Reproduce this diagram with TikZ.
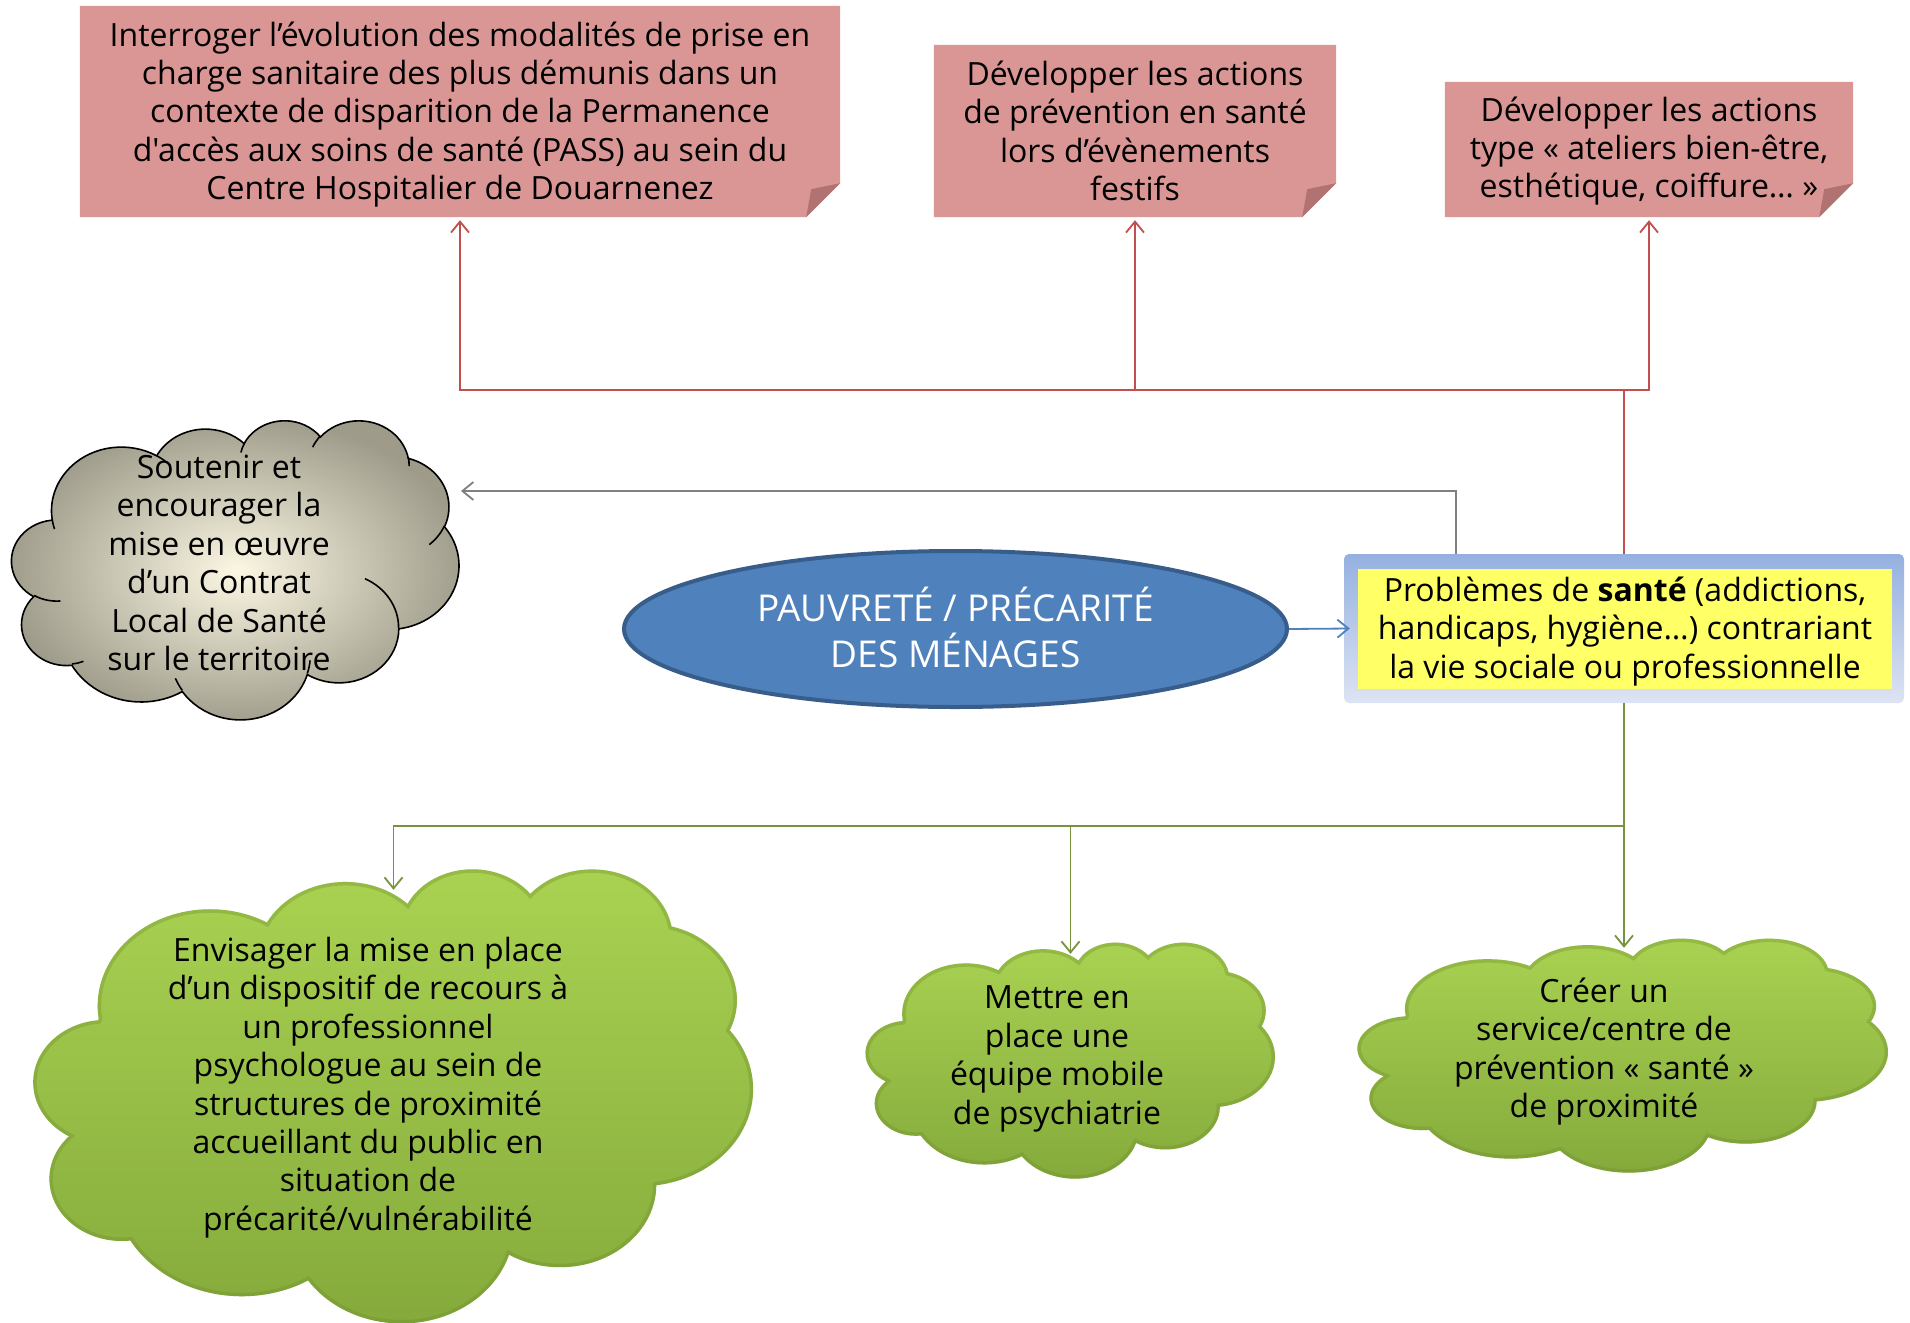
\documentclass[tikz,border=0pt]{standalone}
\usepackage{fontspec}
\setmainfont{Open Sans}[Ligatures=TeXOff]
\usetikzlibrary{shapes.geometric,arrows.meta,calc}
\pgfdeclarelayer{background}
\pgfsetlayers{background,main}
\definecolor{pinkf}{HTML}{D99694}
\definecolor{pinkd}{HTML}{B07371}
\definecolor{redl}{HTML}{C0504D}
\definecolor{greenl}{HTML}{77933C}
\definecolor{grayl}{HTML}{808080}
\definecolor{bluel}{HTML}{4F81BD}
\definecolor{blued}{HTML}{385D8A}
\definecolor{glowtop}{HTML}{95B0E0}
\definecolor{glowbot}{HTML}{DDE4F3}
\definecolor{yel}{HTML}{FFFF66}
\definecolor{gtop}{HTML}{AAD352}
\definecolor{gbot}{HTML}{84A93B}
\definecolor{grim}{HTML}{6E8F2E}
\definecolor{cream}{HTML}{FBF7E3}
\definecolor{taupe}{HTML}{9E9B8A}
\tikzset{
  txt/.style={font=\fontsize{32}{38.4}\selectfont, align=center, inner sep=0pt},
  pinkbox/.style={rectangle, inner sep=0pt},
  cbox/.style={rectangle, inner sep=0pt},
  arr/.style={-{Straight Barb[length=11pt,width=18pt,line width=1.8pt]}},
  redc/.style={draw=redl, line width=1.8pt},
  greenc/.style={draw=greenl, line width=1.8pt},
  grayc/.style={draw=grayl, line width=1.8pt},
  bluec/.style={draw=bluel, line width=1.8pt},
}
% Office cloud arcs (box 432 x 432, y down)
\newcommand\mkarc[5]{%
  \pgfmathsetmacro\tmpa{atan2(#2*sin(#4),#3*cos(#4))}%
  \pgfmathsetmacro\tmpb{atan2(#2*sin(#4+#5),#3*cos(#4+#5))}%
  \pgfmathsetmacro\tmpd{\tmpb-\tmpa+360*((\tmpb-\tmpa)<0)}%
  \expandafter\xdef\csname oc#1\endcsname{arc[x radius=#2, y radius=#3, start angle=\tmpa, delta angle=\tmpd]}}
\mkarc{A}{67.53}{91.90}{-190.4875}{123.7805}
\mkarc{B}{53.33}{72.67}{-144.1024}{89.9452}
\mkarc{C}{43.65}{59.45}{-145.8079}{99.7230}
\mkarc{D}{48.57}{65.95}{-130.9861}{117.2417}
\mkarc{E}{53.33}{72.73}{-78.7089}{109.0269}
\mkarc{F}{67.75}{92.20}{-46.2673}{130.2690}
\mkarc{G}{57.85}{78.67}{0.6250}{114.0333}
\mkarc{H}{67.52}{92.15}{22.4516}{115.1726}
\mkarc{I}{77.20}{105.43}{66.2426}{75.7110}
\mkarc{J}{43.60}{59.18}{-274.9421}{146.7356}
\mkarc{K}{43.45}{59.45}{-246.8285}{152.5189}
\mkarc{ia}{43.45}{59.45}{86.7420}{26.4295}
\mkarc{ib}{43.60}{59.18}{73.6105}{11.4475}
\mkarc{ic}{67.52}{92.15}{137.6242}{14.0811}
\mkarc{id}{67.52}{92.15}{6.4533}{15.9984}
\mkarc{ie}{57.85}{78.67}{-70.2924}{70.9174}
\mkarc{if}{53.33}{72.73}{30.3180}{27.7515}
\mkarc{ig}{48.57}{65.95}{-13.7443}{14.8589}
\mkarc{ih}{48.57}{65.95}{-149.1815}{18.1954}
\mkarc{ii}{43.65}{59.45}{-163.4943}{17.6864}
\mkarc{ij}{67.53}{91.90}{-66.7070}{12.3194}
\mkarc{ik}{67.53}{91.90}{157.6544}{11.8582}
\newcommand\ocpath{(39,143.7) \ocA \ocB \ocC \ocD \ocE \ocF \ocG \ocH \ocI \ocJ \ocK -- cycle}
\newcommand\ocinner{(46.93,261.77) \ocia (69.28,348.99) \ocib (164.78,390.90) \ocic
  (288.27,347.51) \ocid (341.29,229.54) \ocie (417.98,153.54) \ocif (383.24,54.26) \ocig
  (290.78,39.52) \ocih (221.41,47.20) \ocii (140.00,51.92) \ocij (41.27,157.89) \ocik}
\newcommand\foldbox[1]{%
  \begin{pgfonlayer}{background}
  \fill[pinkf] (#1.north west) -- (#1.north east) -- ([yshift=34pt]#1.south east)
     -- ([xshift=-34pt]#1.south east) -- (#1.south west) -- cycle;
  \fill[pinkd] ([yshift=34pt]#1.south east) -- ([xshift=-34pt]#1.south east)
     -- ([xshift=-29pt,yshift=28pt]#1.south east) -- cycle;
  \end{pgfonlayer}}
% #1 node name, #2 width, #3 height
\newcommand\graycloud[3]{%
  \pgfmathsetmacro\cxs{#2/432}\pgfmathsetmacro\cys{#3/432}%
  \begin{scope}[shift={(#1.north west)}, x=\cxs pt, y=-\cys pt]
    \draw[black, line width=1.6pt, inner color=cream, outer color=taupe] \ocpath;
    \draw[black, line width=1.6pt] \ocinner;
  \end{scope}}
\newcommand\greencloud[3]{%
  \pgfmathsetmacro\cxs{#2/432}\pgfmathsetmacro\cys{#3/432}%
  \begin{scope}[shift={(#1.north west)}, x=\cxs pt, y=-\cys pt]
    \shade[top color=gtop, bottom color=gbot] \ocpath;
    \begin{scope}
      \clip \ocpath;
      \draw[grim, line width=7pt, opacity=0.35] \ocpath;
    \end{scope}
  \end{scope}}
\begin{document}
\begin{tikzpicture}[x=1pt,y=-1pt]
\useasboundingbox (0,0) rectangle (1910,1322);
\begin{pgfonlayer}{background}
\fill[white] (0,0) rectangle (1910,1322);
\end{pgfonlayer}

% top pink boxes
\node[pinkbox, minimum width=760pt, minimum height=211pt] (box1) at (460,111.5) {};
\node[txt] (t1) at (460,114.5) {Interroger l’évolution des modalités de prise en\\charge sanitaire des plus démunis dans un\\contexte de disparition de la Permanence\\d'accès aux soins de santé (PASS) au sein du\\Centre Hospitalier de Douarnenez};
\foldbox{box1}
\node[pinkbox, minimum width=402pt, minimum height=172pt] (box2) at (1135,131) {};
\node[txt] (t2) at (1135,131) {Développer les actions\\de prévention en santé\\lors d’évènements\\festifs};
\foldbox{box2}
\node[pinkbox, minimum width=408pt, minimum height=135pt] (box3) at (1649,149.5) {};
\node[txt] (t3) at (1649,151) {Développer les actions\\type « ateliers bien-être,\\esthétique, coiffure… »};
\foldbox{box3}

% gray cloud
\node[cbox, minimum width=447pt, minimum height=299pt] (gcloud) at (235.5,569.5) {};
\graycloud{gcloud}{447}{299}
\node[txt] (gt) at (219,563) {Soutenir et\\encourager la\\mise en œuvre\\d’un Contrat\\Local de Santé\\sur le territoire};

% ellipse
\node[ellipse, minimum width=663pt, minimum height=156pt, fill=bluel, draw=blued, line width=4pt, inner sep=0pt] (ell) at (955.5,629) {};
\node[font=\fontsize{37}{46}\selectfont, text=white, align=center, inner sep=0pt] (et) at (955.5,627) {PAUVRETÉ / PRÉCARITÉ\\DES MÉNAGES};

% sante box
\node[rectangle, rounded corners=5pt, minimum width=560pt, minimum height=149pt, top color=glowtop, bottom color=glowbot, inner sep=0pt] (sante) at (1624,628.5) {};
\node[rectangle, fill=yel, minimum width=534pt, minimum height=120pt, inner sep=0pt] (sy) at (1625,629) {};
\node[txt] (st) at (1625,631.5) {Problèmes de \textbf{santé} (addictions,\\handicaps, hygiène…) contrariant\\la vie sociale ou professionnelle};

% green clouds
\node[cbox, minimum width=719pt, minimum height=454pt] (cA) at (393.5,1095) {};
\greencloud{cA}{719}{454}
\node[txt] (tA) at (368,1087.5) {Envisager la mise en place\\d’un dispositif de recours à\\un professionnel\\psychologue au sein de\\structures de proximité\\accueillant du public en\\situation de\\précarité/vulnérabilité};
\node[cbox, minimum width=409pt, minimum height=236pt] (cB) at (1070.5,1060) {};
\greencloud{cB}{409}{236}
\node[txt] (tB) at (1057,1059) {Mettre en\\place une\\équipe mobile\\de psychiatrie};
\node[cbox, minimum width=530pt, minimum height=234pt] (cC) at (1623,1055) {};
\greencloud{cC}{530}{234}
\node[txt] (tC) at (1604,1051.5) {Créer un\\service/centre de\\prévention « santé »\\de proximité};

% connectors
\coordinate (rj) at (1624,390);
\draw[redc] (sante.north -| rj) -- (rj);
\draw[redc, arr] (rj) -| ([yshift=-3pt]box1.south);
\draw[redc, arr] (rj) -| ([yshift=-3pt]box3.south);
\draw[redc, arr] (box2.south |- rj) -- ([yshift=-3pt]box2.south);

\coordinate (gk) at (1456,491);
\coordinate (gtip) at (461,491);
\draw[grayc, arr] (sante.north -| gk) -- (gk) -- (gtip);

\draw[bluec, arr] (ell.east) -- ([xshift=6pt]sante.west);

\coordinate (gj) at (1624,826);
\draw[greenc] (sante.south) -- (gj);
\draw[greenc, arr] (gj) -| ([yshift=-22pt]cA.north);
\draw[greenc, arr] (cB.north |- gj) -- ([yshift=-12pt]cB.north);
\draw[greenc, arr] (gj) -- ([yshift=-10pt]cC.north -| gj);
\end{tikzpicture}
\end{document}
